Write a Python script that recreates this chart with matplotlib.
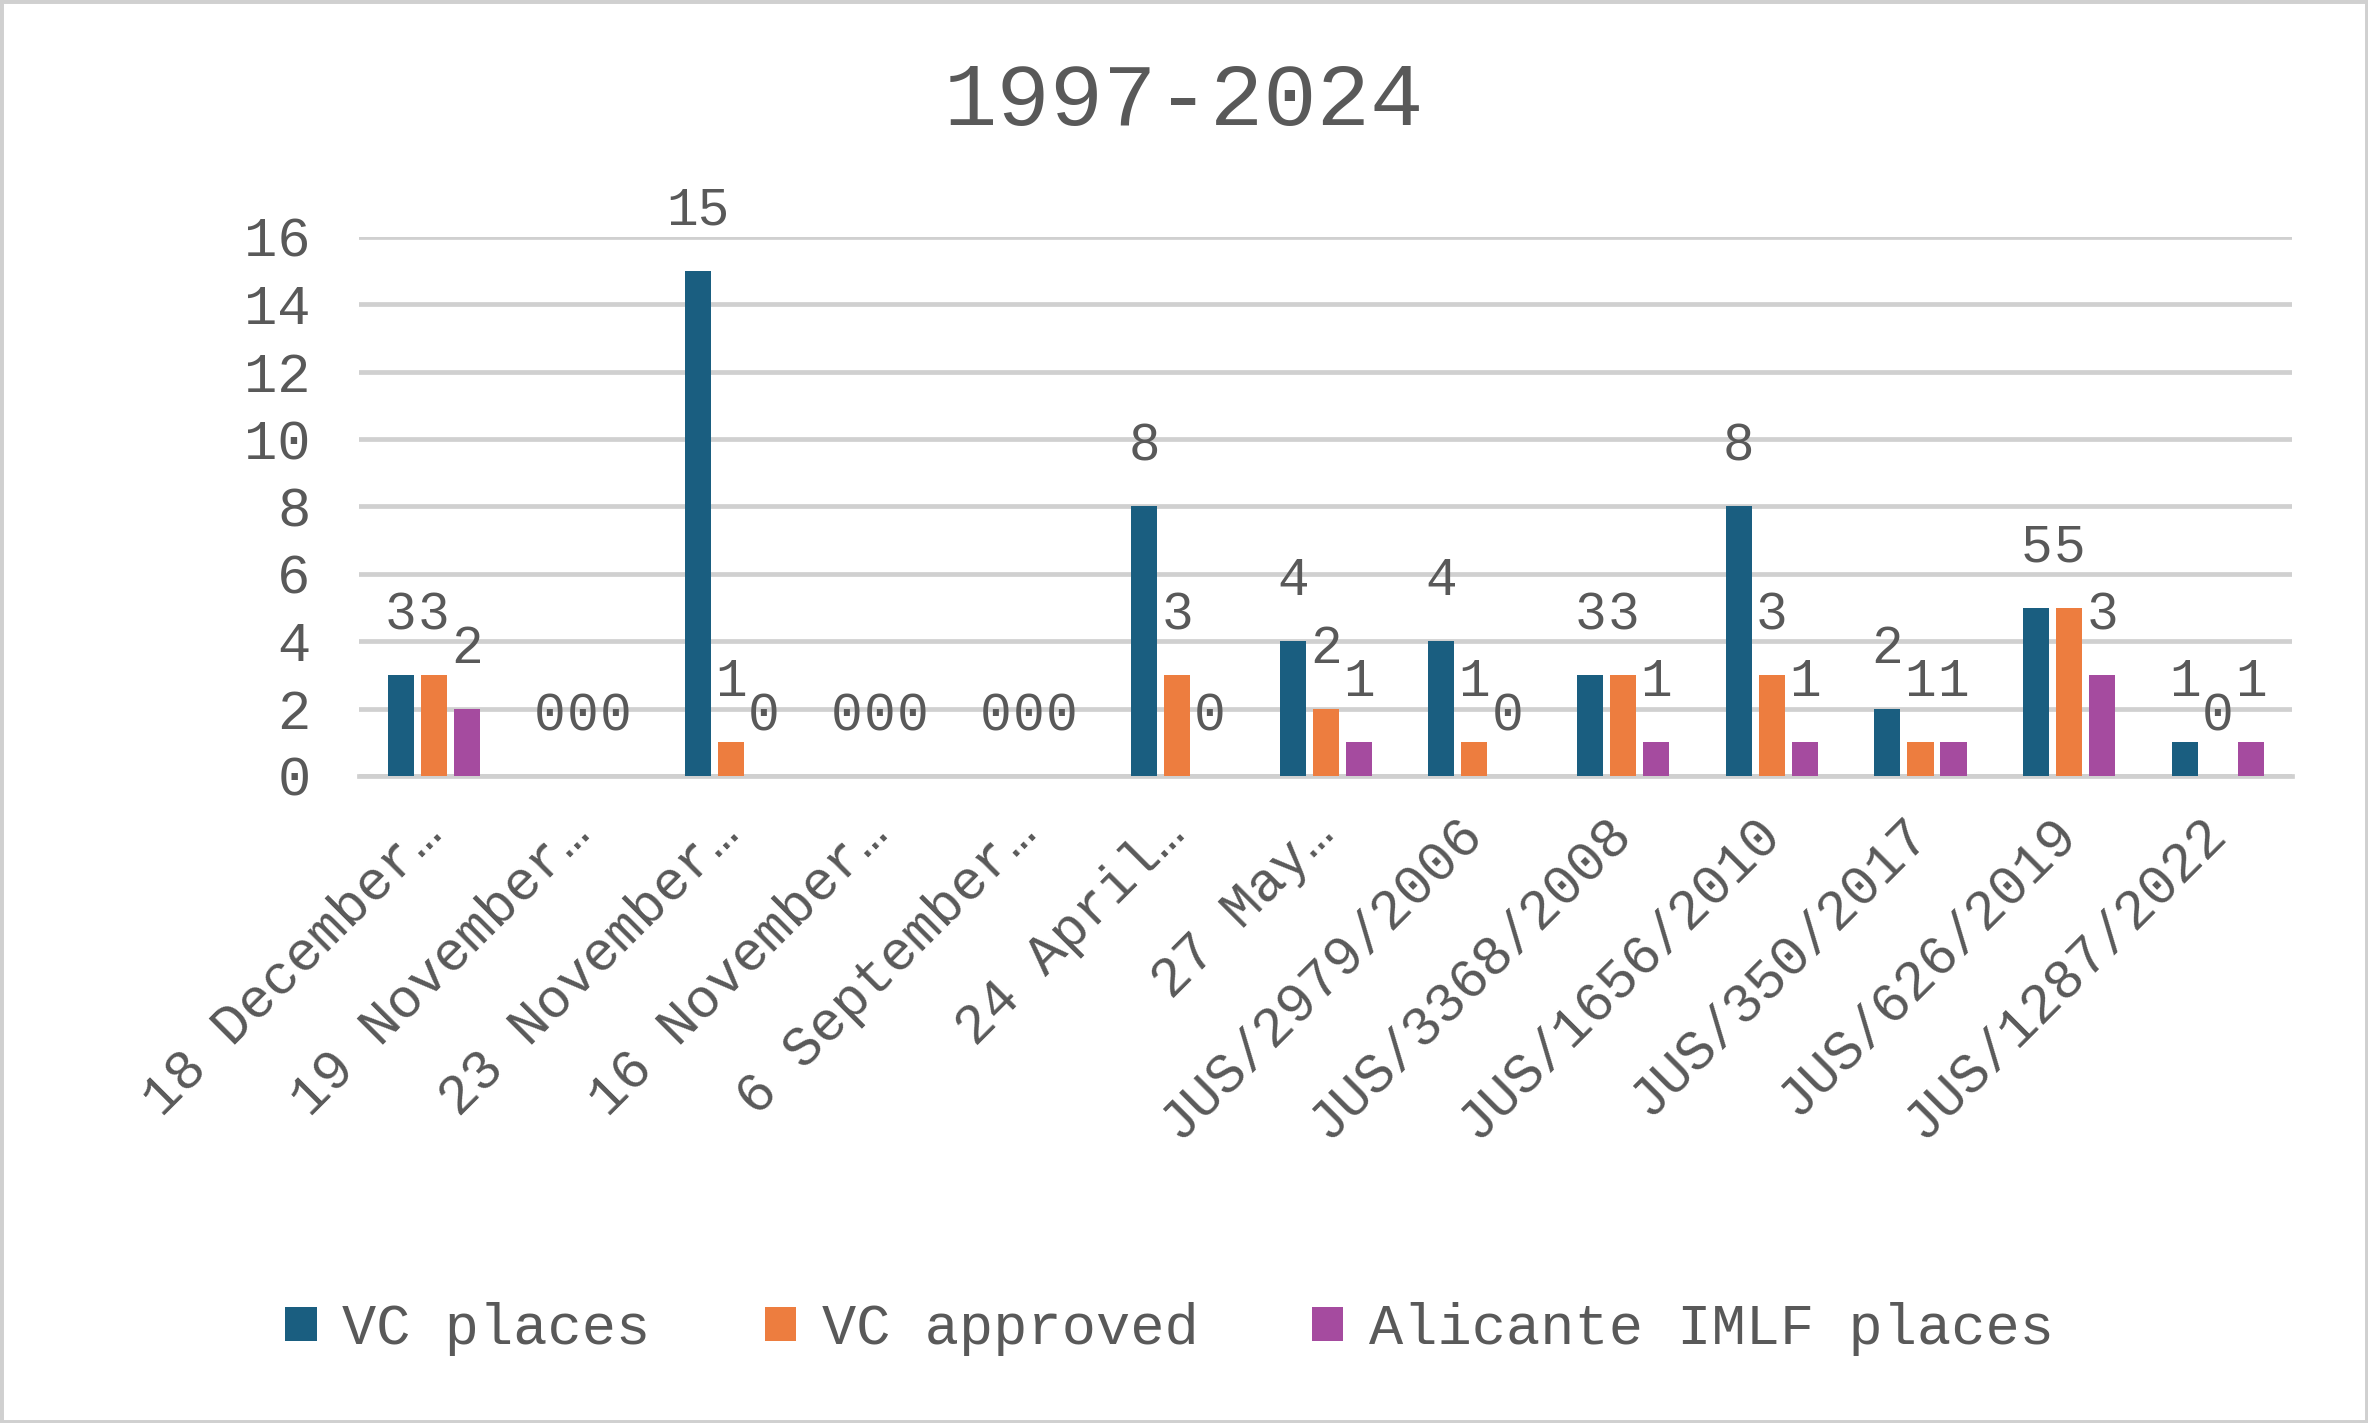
import numpy as np
import matplotlib
matplotlib.use("Agg")
import matplotlib.pyplot as plt
from matplotlib.patches import Rectangle

# chart data
categories = ["18 December…", "19 November…", "23 November…", "16 November…",
              "6 September…", "24 April…", "27 May…", "JUS/2979/2006",
              "JUS/3368/2008", "JUS/1656/2010", "JUS/350/2017",
              "JUS/626/2019", "JUS/1287/2022"]
vc_places = [3, 0, 15, 0, 0, 8, 4, 4, 3, 8, 2, 5, 1]
vc_approved = [3, 0, 1, 0, 0, 3, 2, 1, 3, 3, 1, 5, 0]
alicante = [2, 0, 0, 0, 0, 0, 1, 0, 1, 1, 1, 3, 1]
series_names = ["VC places", "VC approved", "Alicante IMLF places"]
series_colors = ["#1A5E80", "#ED7D3F", "#A54B9F"]

txt = "#595959"
grid_c = "#D0D0D0"
plt.rcParams["font.family"] = ["Liberation Mono", "DejaVu Sans Mono"]

fig = plt.figure(figsize=(23.68, 14.23), dpi=100)
ax = fig.add_axes([0.1517, 0.4547, 0.8163, 0.3788])

x = np.arange(len(categories))
width = 0.175
step = 0.222
bars = []
for i, (vals, name, col) in enumerate(zip([vc_places, vc_approved, alicante],
                                          series_names, series_colors)):
    b = ax.bar(x + (i - 1) * step, vals, width, color=col, label=name, zorder=3)
    bars.append(b)
    for xi, v in zip(x + (i - 1) * step, vals):
        ax.annotate(str(v), (xi, v), xytext=(0, 33), textcoords="offset points",
                    ha="center", va="baseline", fontsize=38, color=txt)

ax.set_xlim(-0.5, len(categories) - 0.5)
ax.set_ylim(0, 16)
ax.set_yticks(range(0, 17, 2))
ax.yaxis.grid(True, color=grid_c, linewidth=3.4, zorder=0)
ax.set_axisbelow(True)
for s in ["top", "right", "left"]:
    ax.spines[s].set_visible(False)
ax.spines["bottom"].set_color(grid_c)
ax.spines["bottom"].set_linewidth(3.4)
ax.tick_params(axis="both", length=0, colors=txt, labelsize=40)
ax.tick_params(axis="y", pad=35)
ax.tick_params(axis="x", pad=36)
ax.set_xticks(x)
ax.set_xticklabels(categories, rotation=45, ha="right", va="center",
                   rotation_mode="anchor")

fig.suptitle("1997-2024", y=0.928, fontsize=64, color=txt, va="center")

leg = fig.legend(handles=bars, labels=series_names, loc="center",
                 bbox_to_anchor=(0.494, 0.066), ncol=3, frameon=False,
                 fontsize=41, handlelength=0.55, handleheight=0.55,
                 handletextpad=0.45, columnspacing=2.0)
for t in leg.get_texts():
    t.set_color(txt)

fig.patches.append(Rectangle((0, 0), 1, 1, transform=fig.transFigure,
                             fill=False, edgecolor=grid_c, linewidth=5))

fig.savefig("out.png", dpi=100, facecolor="white")
